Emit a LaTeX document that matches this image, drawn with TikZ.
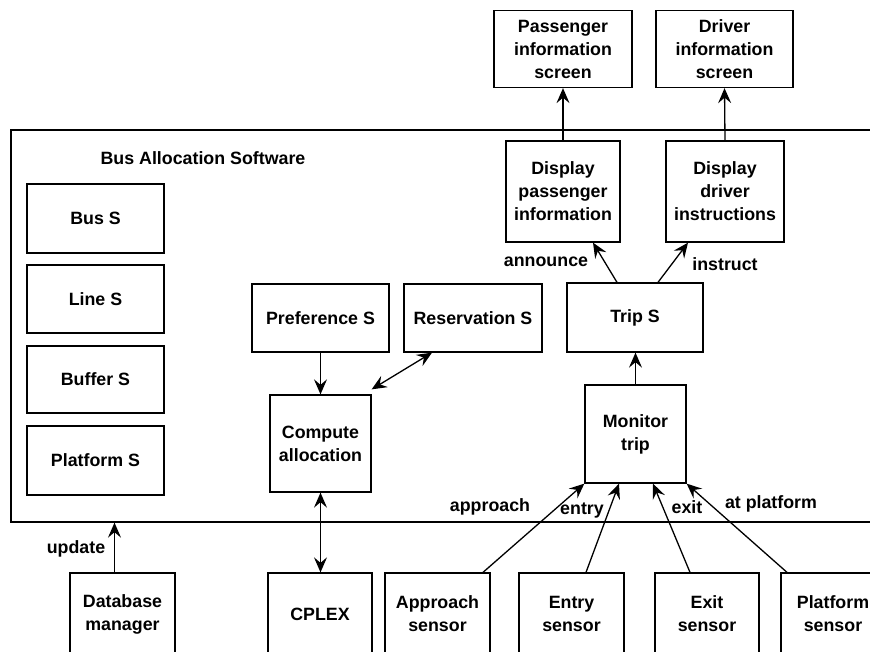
\documentclass[tikz,border=0pt]{standalone}
\usepackage{fontspec}
\setmainfont{Liberation Sans}
\usetikzlibrary{arrows.meta,calc}
\begin{document}
\begin{tikzpicture}[x=1pt,y=-1pt,
  txt/.style={font=\fontsize{17.8}{23}\selectfont\bfseries, inner sep=0pt, align=center},
  box/.style={txt, draw, line width=1.3pt},
  arr/.style={line width=1.3pt, -{Stealth[length=15pt,width=13pt,inset=5.5pt]}},
  darr/.style={line width=1.3pt, {Stealth[length=15pt,width=13pt,inset=5.5pt]}-{Stealth[length=15pt,width=13pt,inset=5.5pt]}}]
\clip (0,0) rectangle (870,652);

% system boundary
\node (sys) [draw, line width=1.3pt, minimum width=869pt, minimum height=392pt, inner sep=0pt] at (445.5,326) {};
\node (title) [txt] at (203,158) {Bus Allocation Software};

% stores on the left
\node (bus)  [box, minimum width=137pt, minimum height=69pt] at (95.5,218.5) {Bus S};
\node (line) [box, minimum width=137pt, minimum height=68pt] at (95.5,299) {Line S};
\node (buf)  [box, minimum width=137pt, minimum height=67pt] at (95.5,379.5) {Buffer S};
\node (plat) [box, minimum width=137pt, minimum height=69pt] at (95.5,460.5) {Platform S};

% allocation part
\node (pref) [box, minimum width=137pt, minimum height=68pt] at (320.5,318) {Preference S};
\node (res)  [box, minimum width=138pt, minimum height=68pt] at (473,318) {Reservation S};
\node (comp) [box, minimum width=101pt, minimum height=97pt] at (320.5,443.5) {Compute\\allocation};

% trip part
\node (trip) [box, minimum width=136pt, minimum height=69pt] at (635,317.5) {Trip S};
\node (mon)  [box, minimum width=101pt, minimum height=98pt] at (635.5,434) {Monitor\\trip};
\node (dispP) [box, minimum width=114pt, minimum height=101pt] at (563,191.5) {Display\\passenger\\information};
\node (dispD) [box, minimum width=118pt, minimum height=101pt] at (725,191.5) {Display\\driver\\instructions};

% screens
\node (scrP) [box, minimum width=138pt, minimum height=77pt] at (563,49) {Passenger\\information\\screen};
\node (scrD) [box, minimum width=137pt, minimum height=77pt] at (724.5,49) {Driver\\information\\screen};

% external devices
\node (db)    [box, minimum width=105pt, minimum height=82pt] at (122.5,614) {Database\\manager};
\node (cplex) [box, minimum width=104pt, minimum height=82pt] at (320,614) {CPLEX};
\node (appr)  [box, minimum width=105pt, minimum height=82pt] at (437.5,614) {Approach\\sensor};
\node (entry) [box, minimum width=105pt, minimum height=82pt] at (571.5,614) {Entry\\sensor};
\node (exit)  [box, minimum width=104pt, minimum height=82pt] at (707,614) {Exit\\sensor};
\node (pfs)   [box, minimum width=104pt, minimum height=82pt] at (833,614) {Platform\\sensor};

% connectors
\draw[arr] (dispP.north) -- (scrP.south);
\draw[arr] (dispD.north) -- (scrD.south);
\draw[arr] ([xshift=-18pt]trip.north) -- ([xshift=30pt]dispP.south);
\draw[arr] ([xshift=23pt]trip.north) -- ([xshift=-37pt]dispD.south);
\draw[arr] (mon.north) -- (mon.north |- trip.south);
\draw[arr] (pref.south) -- (pref.south |- comp.north);
\draw[darr] ([xshift=-41pt]res.south) -- ([yshift=5pt]comp.north east);
\draw[darr] (comp.south) -- (comp.south |- cplex.north);
\draw[arr] ([xshift=-8pt]db.north) -- ([xshift=-8pt]db.north |- sys.south);
\draw[arr] ([xshift=45.5pt]appr.north) -- (mon.south west);
\draw[arr] ([xshift=14.5pt]entry.north) -- ([xshift=-16.5pt]mon.south);
\draw[arr] ([xshift=-17pt]exit.north) -- ([xshift=17.5pt]mon.south);
\draw[arr] ([xshift=-46pt]pfs.north) -- (mon.south east);

% connector labels
\node (lupd)  [txt] at (76,549) {update};
\node (lann)  [txt] at (546,262) {announce};
\node (lins)  [txt] at (725,264) {instruct};
\node (lappr) [txt] at (490,507) {approach};
\node (lent)  [txt] at (582,511) {entry};
\node (lexit) [txt] at (687,507) {exit};
\node (lpf)   [txt] at (771,504) {at platform};
\end{tikzpicture}
\end{document}
